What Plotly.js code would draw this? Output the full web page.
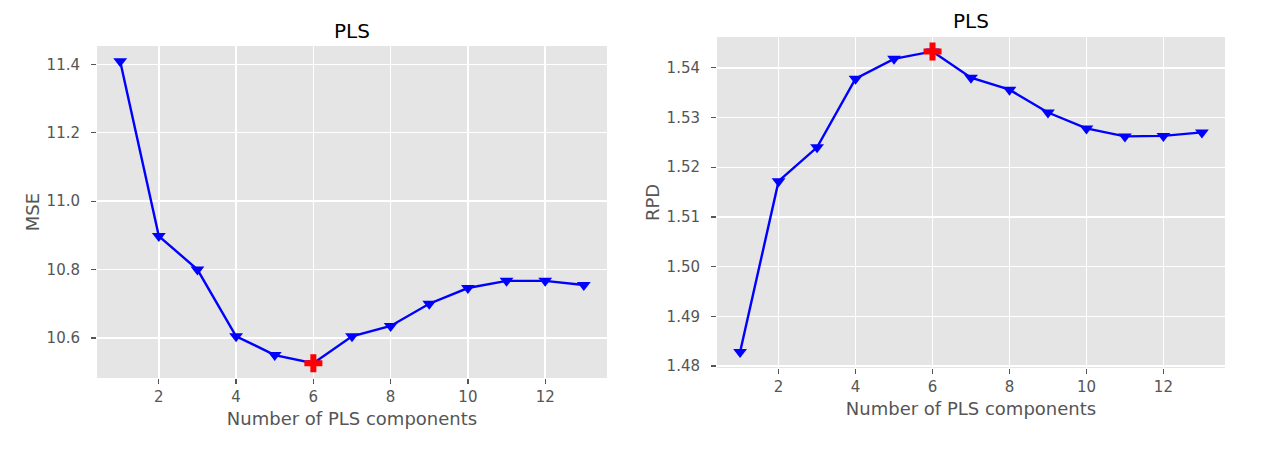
<!DOCTYPE html>
<html>
<head>
<meta charset="utf-8">
<script src="https://cdn.plot.ly/plotly-3.0.1.min.js"></script>
<style>html,body{margin:0;padding:0;background:#fff;}#chart{width:1270px;height:452px;}</style>
</head>
<body>
<div id="chart"></div>
<script>
// Data
const components = [1, 2, 3, 4, 5, 6, 7, 8, 9, 10, 11, 12, 13];
const mse = [11.409, 10.898, 10.800, 10.605, 10.550, 10.526, 10.605, 10.635, 10.700, 10.746, 10.767, 10.767, 10.755];
const rpd = [1.4828, 1.5172, 1.5240, 1.5378, 1.5418, 1.5433, 1.5380, 1.5356, 1.5310, 1.5278, 1.5262, 1.5263, 1.5270];
const xTicks = [2, 4, 6, 8, 10, 12];
const titleText = "PLS";
const xLabel = "Number of PLS components";
const yLabelLeft = "MSE";
const yLabelRight = "RPD";

const bestMse = mse.indexOf(Math.min(...mse));
const bestRpd = rpd.indexOf(Math.max(...rpd));

const FONT = "DejaVu Sans, sans-serif";
const GREY = "#555555";

const lineStyle = {color: "#0000ff", width: 2.4};
const markerStyle = {symbol: "triangle-down", size: 12, color: "#0000ff"};
const bestStyle = {symbol: "cross", size: 15, color: "#ff0000"};

const traces = [
  {x: components, y: mse, mode: "lines+markers", line: lineStyle, marker: markerStyle, xaxis: "x", yaxis: "y", hoverinfo: "x+y"},
  {x: [components[bestMse]], y: [mse[bestMse]], mode: "markers", marker: bestStyle, xaxis: "x", yaxis: "y"},
  {x: components, y: rpd, mode: "lines+markers", line: lineStyle, marker: markerStyle, xaxis: "x2", yaxis: "y2"},
  {x: [components[bestRpd]], y: [rpd[bestRpd]], mode: "markers", marker: bestStyle, xaxis: "x2", yaxis: "y2"}
];

function xAxis(domain, anchor) {
  return {
    domain: domain, anchor: anchor, range: [0.4, 13.6],
    tickmode: "array", tickvals: xTicks,
    ticks: "outside", ticklen: 5, tickwidth: 1.3, tickcolor: GREY,
    tickfont: {family: FONT, size: 15, color: GREY},
    showgrid: true, gridcolor: "#ffffff", gridwidth: 1.4,
    zeroline: false, showline: false,
    title: {text: xLabel, font: {family: FONT, size: 18, color: GREY}, standoff: 7}
  };
}
function yAxis(domain, anchor, range, dtick, fmt, label) {
  return {
    domain: domain, anchor: anchor, range: range,
    dtick: dtick, tick0: 0, tickformat: fmt,
    ticks: "outside", ticklen: 5, tickwidth: 1.3, tickcolor: GREY,
    ticklabelstandoff: 8,
    tickfont: {family: FONT, size: 15, color: GREY},
    showgrid: true, gridcolor: "#ffffff", gridwidth: 1.4,
    zeroline: false, showline: false,
    title: {text: label, font: {family: FONT, size: 18, color: GREY}, standoff: 2}
  };
}

const layout = {
  width: 1270, height: 452,
  margin: {l: 0, r: 0, t: 0, b: 0},
  paper_bgcolor: "#ffffff",
  plot_bgcolor: "#e5e5e5",
  showlegend: false,
  font: {family: FONT, color: GREY},
  xaxis: xAxis([97/1270, 607/1270], "y"),
  yaxis: yAxis([1 - 378/452, 1 - 46/452], "x", [10.4829, 11.4537], 0.2, ".1f", yLabelLeft),
  xaxis2: xAxis([717/1270, 1225/1270], "y2"),
  yaxis2: yAxis([1 - 368/452, 1 - 37/452], "x2", [1.4796, 1.5462], 0.01, ".2f", yLabelRight),
  annotations: [
    {text: titleText, xref: "paper", yref: "paper", x: 352/1270, y: 1 - 31/452, xanchor: "center", yanchor: "middle", showarrow: false, font: {family: FONT, size: 20, color: "#000000"}},
    {text: titleText, xref: "paper", yref: "paper", x: 971/1270, y: 1 - 21/452, xanchor: "center", yanchor: "middle", showarrow: false, font: {family: FONT, size: 20, color: "#000000"}}
  ]
};

Plotly.newPlot("chart", traces, layout, {staticPlot: true, displayModeBar: false});
</script>
</body>
</html>
